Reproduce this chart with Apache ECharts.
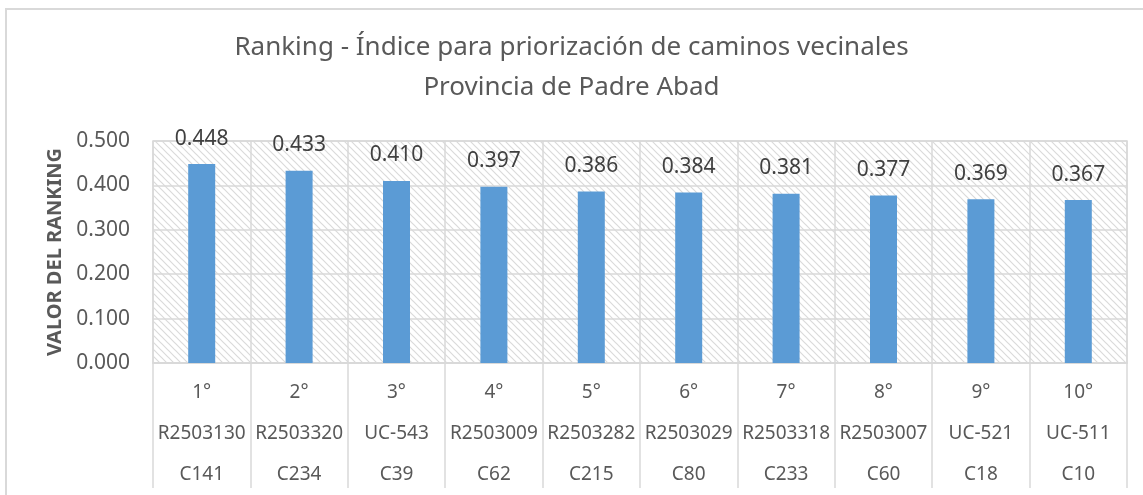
<!DOCTYPE html>
<html>
<head>
<meta charset="utf-8">
<script src="https://cdn.jsdelivr.net/npm/echarts@6/dist/echarts.min.js"></script>
<style>
html, body { margin: 0; padding: 0; background: #fff; }
#main { width: 1143px; height: 495px; }
</style>
</head>
<body>
<div id="main"></div>
<script>
/* datos */
var puestos = ['1°', '2°', '3°', '4°', '5°', '6°', '7°', '8°', '9°', '10°'];
var codigos = ['R2503130', 'R2503320', 'UC-543', 'R2503009', 'R2503282', 'R2503029', 'R2503318', 'R2503007', 'UC-521', 'UC-511'];
var caminos = ['C141', 'C234', 'C39', 'C62', 'C215', 'C80', 'C233', 'C60', 'C18', 'C10'];
var valores = [0.448, 0.433, 0.410, 0.397, 0.386, 0.384, 0.381, 0.377, 0.369, 0.367];
var yTicks = [0, 0.1, 0.2, 0.3, 0.4, 0.5];

/* trama rayada del fondo */
var cv = document.createElement('canvas');
cv.width = 7; cv.height = 7;
var ctx = cv.getContext('2d');
ctx.fillStyle = '#ffffff';
ctx.fillRect(0, 0, 7, 7);
ctx.strokeStyle = '#dadada';
ctx.lineWidth = 1.2;
ctx.beginPath();
ctx.moveTo(-1, -1); ctx.lineTo(8, 8);
ctx.moveTo(-8, -1); ctx.lineTo(1, 8);
ctx.moveTo(6, -1); ctx.lineTo(15, 8);
ctx.stroke();

var myChart = echarts.init(document.getElementById('main'));
var option = {
  backgroundColor: '#ffffff',
  textStyle: { fontFamily: 'Noto Sans' },
  graphic: [{
    type: 'rect', silent: true, z: -1,
    shape: { x: 6, y: 9, width: 1300, height: 700 },
    style: { fill: 'none', stroke: '#d9d9d9', lineWidth: 2 }
  }],
  title: {
    text: 'Ranking - Índice para priorización de caminos vecinales\nProvincia de Padre Abad',
    left: 'center',
    top: 23,
    textStyle: { fontSize: 26, fontWeight: 'normal', color: '#595959', lineHeight: 40 }
  },
  grid: {
    left: 153, right: 16, top: 141, bottom: 132,
    show: true,
    borderColor: '#d9d9d9',
    borderWidth: 1.5,
    backgroundColor: { image: cv, repeat: 'repeat' }
  },
  xAxis: {
    type: 'category',
    data: puestos,
    axisLine: { lineStyle: { color: '#d9d9d9', width: 1.5 } },
    axisTick: { show: true, interval: 0, length: 125, lineStyle: { color: '#d9d9d9', width: 1.5 } },
    splitLine: { show: true, interval: 0, lineStyle: { color: '#d9d9d9', width: 1.5 } },
    axisLabel: {
      interval: 0,
      margin: 9,
      color: '#595959',
      fontSize: 19,
      lineHeight: 41,
      formatter: function (v, i) {
        return puestos[i] + '\n' + codigos[i] + '\n' + caminos[i];
      }
    }
  },
  yAxis: {
    type: 'value',
    min: yTicks[0],
    max: yTicks[yTicks.length - 1],
    interval: 0.1,
    name: 'VALOR DEL RANKING',
    nameLocation: 'middle',
    nameRotate: 90,
    nameGap: 88,
    nameTextStyle: { fontSize: 20, fontWeight: 'bold', color: '#595959' },
    axisLine: { show: false },
    axisTick: { show: false },
    axisLabel: {
      margin: 23,
      color: '#595959',
      fontSize: 21,
      formatter: function (v) { return v.toFixed(3); }
    },
    splitLine: { lineStyle: { color: '#d9d9d9', width: 1.5 } }
  },
  series: [{
    type: 'bar',
    data: valores,
    barWidth: 27,
    itemStyle: { color: '#5B9BD5' },
    label: {
      show: true,
      position: 'top',
      distance: 15,
      color: '#404040',
      fontSize: 21,
      formatter: function (p) { return p.value.toFixed(3); }
    }
  }]
};
myChart.setOption(option);
</script>
</body>
</html>
